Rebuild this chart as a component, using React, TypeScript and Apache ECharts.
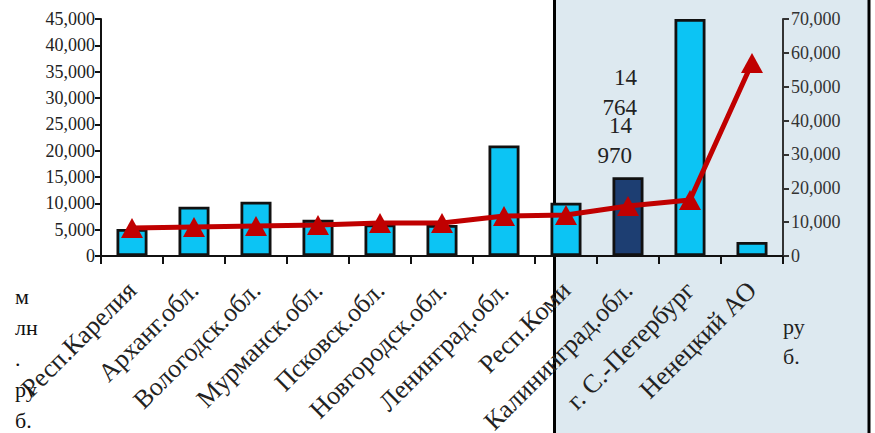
import React, { useEffect, useRef } from "react";
import * as echarts from "echarts";

const categories = [
  "Респ.Карелия",
  "Арханг.обл.",
  "Вологодск.обл.",
  "Мурманск.обл.",
  "Псковск.обл.",
  "Новгородск.обл.",
  "Ленинград.обл.",
  "Респ.Коми",
  "Калининград.обл.",
  "г. С.-Петербург",
  "Ненецкий АО",
];
const barValues = [5150, 9340, 10300, 6860, 6000, 5900, 20980, 10100, 14970, 45000, 2670];
const lineValues = [8270, 8560, 8860, 9150, 9750, 9750, 11800, 12100, 14764, 16540, 57000];
const highlightIndex = 8;
const barLabelText = "14\n970";
const lineLabelText = "14\n764";
const leftUnit = "м\nлн\n.\nру\nб.";
const rightUnit = "ру\nб.";
const leftAxis = { min: 0, max: 45000, interval: 5000 };
const rightAxis = { min: 0, max: 70000, interval: 10000 };

const FONT = "Liberation Serif";

export default function App() {
  const ref = useRef<HTMLDivElement>(null);
  useEffect(() => {
    if (!ref.current) return;
    const chart = echarts.init(ref.current, null, { renderer: "svg" });
    const fmt = (v: number) => v.toLocaleString("en-US");
    chart.setOption({
      animation: false,
      backgroundColor: "#ffffff",
      textStyle: { fontFamily: FONT },
      grid: {
        left: 101,
        right: 92,
        top: 19,
        bottom: 177,
        containLabel: false,
        outerBoundsMode: "none",
      },
      xAxis: {
        type: "category",
        data: categories,
        axisLine: { lineStyle: { color: "#111", width: 2 } },
        axisTick: { show: true, length: 8, lineStyle: { color: "#111", width: 2 } },
        axisLabel: {
          rotate: 45,
          margin: 30,
          interval: 0,
          fontSize: 26,
          color: "#222",
          fontFamily: FONT,
        },
      },
      yAxis: [
        {
          type: "value",
          min: leftAxis.min,
          max: leftAxis.max,
          interval: leftAxis.interval,
          splitLine: { show: false },
          axisLine: { show: true, lineStyle: { color: "#111", width: 2 } },
          axisTick: { show: true, length: 6, lineStyle: { color: "#111", width: 2 } },
          axisLabel: { fontSize: 18, color: "#222", margin: 6, formatter: fmt, fontFamily: FONT },
        },
        {
          type: "value",
          position: "right",
          min: rightAxis.min,
          max: rightAxis.max,
          interval: rightAxis.interval,
          splitLine: { show: false },
          axisLine: { show: true, lineStyle: { color: "#333", width: 2 } },
          axisTick: { show: true, length: 6, lineStyle: { color: "#333", width: 2 } },
          axisLabel: { fontSize: 18, color: "#333", margin: 8, formatter: fmt, fontFamily: FONT },
        },
      ],
      series: [
        {
          type: "bar",
          yAxisIndex: 0,
          barWidth: 31,
          z: 2,
          data: barValues.map((v, i) =>
            i === highlightIndex
              ? {
                  value: v,
                  itemStyle: { color: "#1d3e72" },
                  label: {
                    show: true,
                    position: "top",
                    distance: 7,
                    align: "right",
                    offset: [4, 0],
                    formatter: barLabelText,
                    fontSize: 23,
                    lineHeight: 30,
                    color: "#222",
                    fontFamily: FONT,
                  },
                }
              : v
          ),
          itemStyle: { color: "#0cc4f4", borderColor: "#111", borderWidth: 2.8 },
        },
        {
          type: "line",
          yAxisIndex: 1,
          z: 3,
          data: lineValues.map((v, i) =>
            i === highlightIndex
              ? {
                  value: v,
                  label: {
                    show: true,
                    position: "top",
                    distance: 74,
                    align: "right",
                    offset: [9, 0],
                    formatter: lineLabelText,
                    fontSize: 23,
                    lineHeight: 30,
                    color: "#222",
                    fontFamily: FONT,
                  },
                }
              : v
          ),
          symbol: "triangle",
          symbolSize: [22, 20],
          lineStyle: { color: "#c00000", width: 5 },
          itemStyle: { color: "#c00000" },
        },
      ],
      graphic: [
        {
          type: "rect",
          z: -10,
          silent: true,
          shape: { x: 553, y: 0, width: 316, height: 433 },
          style: { fill: "#dde9f0" },
        },
        {
          type: "line",
          z: -9,
          silent: true,
          shape: { x1: 554.5, y1: 0, x2: 554.5, y2: 433 },
          style: { stroke: "#000", lineWidth: 3 },
        },
        {
          type: "rect",
          z: 100,
          silent: true,
          shape: { x: 868, y: 0, width: 7, height: 433 },
          style: { fill: "#ffffff" },
        },
        {
          type: "line",
          z: 101,
          silent: true,
          shape: { x1: 869, y1: 0, x2: 869, y2: 433 },
          style: { stroke: "#000", lineWidth: 3 },
        },
        {
          type: "text",
          z: 50,
          x: 15,
          y: 281,
          style: { text: leftUnit, fontSize: 22, lineHeight: 31, fill: "#111", fontFamily: FONT },
        },
        {
          type: "text",
          z: 50,
          x: 783,
          y: 311,
          style: { text: rightUnit, fontSize: 22, lineHeight: 30, fill: "#222", fontFamily: FONT },
        },
      ],
    });
    return () => chart.dispose();
  }, []);
  return (
    <div
      ref={ref}
      style={{ position: "fixed", left: 0, top: 0, width: 875, height: 433 }}
    />
  );
}
